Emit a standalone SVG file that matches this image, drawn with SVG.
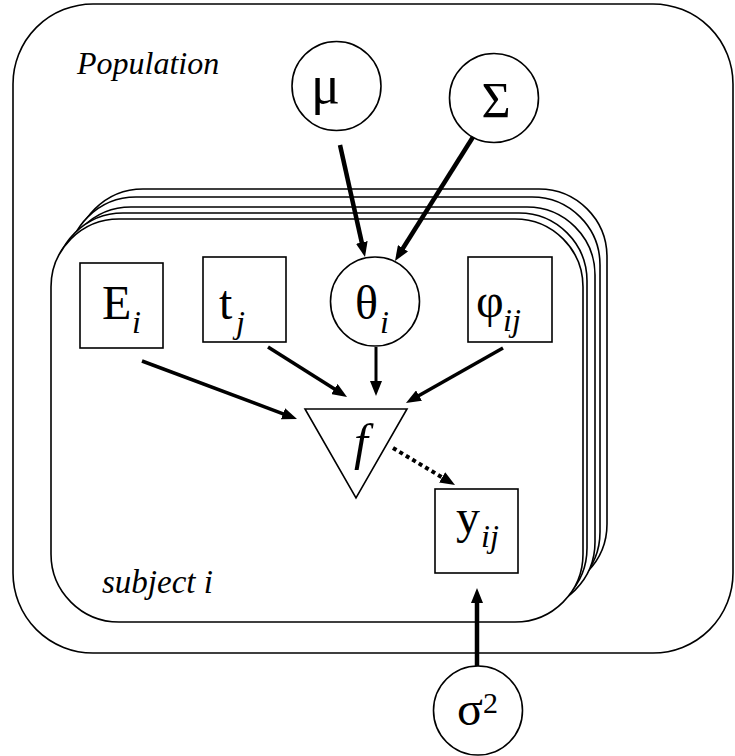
<svg xmlns="http://www.w3.org/2000/svg" width="735" height="756" viewBox="0 0 735 756">
  <defs>
    <style>
      .plate { fill: #fff; stroke: #000; stroke-width: 1.6; }
      .node { fill: #fff; stroke: #000; stroke-width: 1.6; }
      .lbl { font-size: 48px; fill: #000; }
      .sub { font-style: italic; font-size: 32px; }
      .cap { font-style: italic; font-size: 32px; fill: #000; }
      .edge { stroke: #000; fill: none; }
      .heavy { stroke-width: 4.5; }
      .light { stroke-width: 3.5; }
      .thin { stroke-width: 3; }
      .dotted { stroke-width: 4; stroke-dasharray: 4 3.5; }
    </style>
    <marker id="head" viewBox="0 0 15 12" markerWidth="15" markerHeight="12" refX="3" refY="6" orient="auto" markerUnits="userSpaceOnUse">
      <path d="M0,0 L15,6 L0,12 z" fill="#000"/>
    </marker>
  </defs>

  <rect width="735" height="756" fill="#fff"/>

  <g font-family="Liberation Serif, Times New Roman, serif">
  <!-- population plate -->
  <g id="population">
    <rect class="plate" x="13" y="4" width="720" height="649" rx="80" ry="80"/>
    <text class="cap" x="77" y="74">Population</text>
  </g>

  <!-- stacked subject plates, back to front -->
  <g id="subjects">
    <rect class="plate" x="75" y="189" width="532" height="403" rx="68" ry="68"/>
    <rect class="plate" x="68" y="197" width="532" height="403" rx="68" ry="68"/>
    <rect class="plate" x="63" y="207" width="532" height="403" rx="68" ry="68"/>
    <rect class="plate" x="55" y="213" width="532" height="403" rx="68" ry="68"/>
    <rect class="plate" x="51" y="219" width="532" height="403" rx="68" ry="68"/>
    <text class="cap" x="102" y="593" style="font-size:33px">subject i</text>
  </g>

  <g id="mu">
    <circle class="node" cx="336.5" cy="86" r="44.5"/>
    <text class="lbl" x="311" y="103" style="font-size:54px">μ</text>
  </g>

  <g id="Sigma">
    <circle class="node" cx="494" cy="98" r="44.5"/>
    <text class="lbl" x="496" y="117" style="font-size:50px" text-anchor="middle">Σ</text>
  </g>

  <g id="theta">
    <circle class="node" cx="375" cy="301.5" r="44.5"/>
    <text class="lbl" x="355" y="319">θ<tspan class="sub" x="380" dy="14">i</tspan></text>
  </g>

  <g id="E">
    <rect class="node" x="80" y="263" width="83" height="85"/>
    <text class="lbl" x="102" y="319">E<tspan class="sub" x="132" dy="14">i</tspan></text>
  </g>

  <g id="t">
    <rect class="node" x="203" y="257" width="83" height="85"/>
    <text class="lbl" x="219" y="319">t<tspan class="sub" x="236" dy="14">j</tspan></text>
  </g>

  <g id="phi">
    <rect class="node" x="468" y="257" width="84" height="85"/>
    <text class="lbl" x="476" y="317">φ<tspan class="sub" x="503" dy="14">ij</tspan></text>
  </g>

  <g id="f">
    <polygon class="node" points="305,409 407,409 356,498"/>
    <text class="lbl" x="361" y="459" style="font-size:50px;font-style:italic" text-anchor="middle">f</text>
  </g>

  <g id="y">
    <rect class="node" x="435" y="489" width="83" height="84"/>
    <text class="lbl" x="456" y="533">y<tspan class="sub" x="481" dy="14">ij</tspan></text>
  </g>

  <g id="sigma2">
    <circle class="node" cx="478" cy="710.5" r="44.5"/>
    <text class="lbl" x="457" y="725">σ<tspan style="font-size:30px" dy="-12">2</tspan></text>
  </g>
  </g>

  <!-- edges -->
  <g id="edges">
    <line class="edge heavy" x1="340" y1="145" x2="362.4" y2="245.3" marker-end="url(#head)"/>
    <line class="edge heavy" x1="473" y1="137" x2="401.4" y2="250.8" marker-end="url(#head)"/>
    <line class="edge thin" x1="376" y1="347" x2="376" y2="384" marker-end="url(#head)"/>
    <line class="edge light" x1="142" y1="361" x2="285.8" y2="414.8" marker-end="url(#head)"/>
    <line class="edge light" x1="268" y1="347" x2="336.9" y2="390.6" marker-end="url(#head)"/>
    <line class="edge light" x1="503" y1="348" x2="416.4" y2="397.1" marker-end="url(#head)"/>
    <line class="edge dotted" x1="393" y1="448" x2="444.7" y2="478.9" marker-end="url(#head)"/>
    <line class="edge heavy" x1="477" y1="666" x2="477" y2="600" marker-end="url(#head)"/>
  </g>
</svg>
